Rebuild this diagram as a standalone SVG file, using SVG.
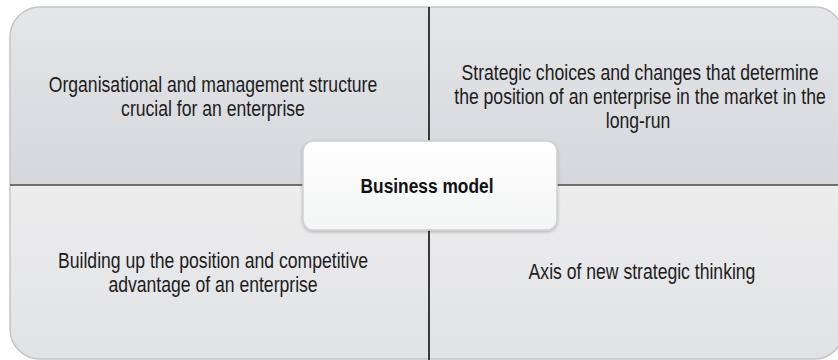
<svg xmlns="http://www.w3.org/2000/svg" width="838" height="360" viewBox="0 0 838 360">
  <style>
    .lbl { font-family: "Liberation Sans", Arial, sans-serif; font-size: 22px; fill: #1c1c1c; text-anchor: middle; }
    .title { font-family: "Liberation Sans", Arial, sans-serif; font-size: 21px; font-weight: bold; fill: #111; text-anchor: middle; }
    .edge { fill: none; stroke: #c4c5c8; stroke-width: 1.5; }
  </style>
  <defs>
    <linearGradient id="gTop" x1="0" y1="0" x2="0" y2="1">
      <stop offset="0" stop-color="#e5e6e8"/>
      <stop offset="1" stop-color="#d6d7da"/>
    </linearGradient>
    <linearGradient id="gBot" x1="0" y1="0" x2="0" y2="1">
      <stop offset="0" stop-color="#ededee"/>
      <stop offset="1" stop-color="#e1e2e4"/>
    </linearGradient>
    <linearGradient id="gCenter" x1="0" y1="0" x2="0" y2="1">
      <stop offset="0" stop-color="#ffffff"/>
      <stop offset="1" stop-color="#f3f4f4"/>
    </linearGradient>
    <filter id="shadow" x="-10%" y="-20%" width="120%" height="150%">
      <feDropShadow dx="0" dy="1.5" stdDeviation="1.5" flood-color="#000" flood-opacity="0.22"/>
    </filter>
  </defs>

  <!-- quadrant panels; each label block is narrowed horizontally to a condensed width -->
  <g id="quadrant-top-left">
    <path d="M10,185 V37 A30,30 0 0 1 40,7 H429 V185 Z" fill="url(#gTop)"/>
    <path class="edge" d="M10,185 V37 A30,30 0 0 1 40,7 H429"/>
    <text class="lbl" transform="translate(213,92) scale(0.80,1)">Organisational and management structure</text>
    <text class="lbl" transform="translate(213,116) scale(0.80,1)">crucial for an enterprise</text>
  </g>
  <g id="quadrant-top-right">
    <path d="M429,7 H815 A28,28 0 0 1 843,35 V185 H429 Z" fill="url(#gTop)"/>
    <path class="edge" d="M429,7 H815 A28,28 0 0 1 843,35"/>
    <text class="lbl" transform="translate(640,80) scale(0.80,1)">Strategic choices and changes that determine</text>
    <text class="lbl" transform="translate(640,104) scale(0.80,1)">the position of an enterprise in the market in the</text>
    <text class="lbl" transform="translate(638,128) scale(0.80,1)">long-run</text>
  </g>
  <g id="quadrant-bottom-left">
    <path d="M10,185 H429 V359 H40 A30,30 0 0 1 10,329 Z" fill="url(#gBot)"/>
    <path class="edge" d="M10,185 V329 A30,30 0 0 0 40,359 H429"/>
    <text class="lbl" transform="translate(213,268) scale(0.80,1)">Building up the position and competitive</text>
    <text class="lbl" transform="translate(213,292) scale(0.80,1)">advantage of an enterprise</text>
  </g>
  <g id="quadrant-bottom-right">
    <path d="M429,185 H843 V331 A28,28 0 0 1 815,359 H429 Z" fill="url(#gBot)"/>
    <path class="edge" d="M843,331 A28,28 0 0 1 815,359 H429"/>
    <text class="lbl" transform="translate(642,279) scale(0.80,1)">Axis of new strategic thinking</text>
  </g>

  <!-- dividing lines -->
  <g id="connectors">
    <line x1="10" y1="185" x2="838" y2="185" stroke="#4a4a4a" stroke-width="1.5"/>
    <line x1="429" y1="7" x2="429" y2="360" stroke="#3a3a3a" stroke-width="2"/>
  </g>

  <!-- central node -->
  <g id="business-model">
    <rect x="303" y="141" width="254" height="89" rx="10" fill="url(#gCenter)" stroke="#cfd0d2" stroke-width="1.5" filter="url(#shadow)"/>
    <text class="title" transform="translate(427,193) scale(0.826,1)">Business model</text>
  </g>
</svg>
